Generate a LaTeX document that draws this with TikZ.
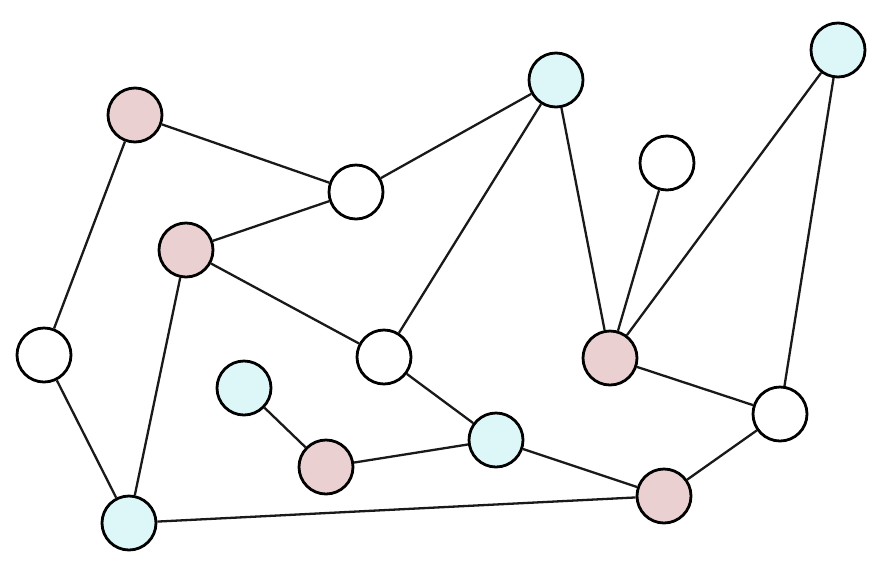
\documentclass[tikz,border=0pt]{standalone}
\begin{document}
\begin{tikzpicture}[x=1pt,y=-1pt,
  vtx/.style={circle,draw=black,line width=2.8pt,minimum size=54pt,inner sep=0pt,fill=white},
  pinkv/.style={vtx,fill=pinkc},
  cyanv/.style={vtx,fill=cyanc},
  edge/.style={line width=2.3pt,draw=black!90}]
\definecolor{pinkc}{HTML}{EBD0D2}
\definecolor{cyanc}{HTML}{DDF6F8}
\fill[white] (0,0) rectangle (882,574);
\useasboundingbox (0,0) rectangle (882,574);
\node[pinkv] (A) at (135,115) {};
\node[cyanv] (B) at (556,80) {};
\node[cyanv] (C) at (838,50) {};
\node[vtx] (D) at (356,192) {};
\node[vtx] (E) at (667,163) {};
\node[pinkv] (F) at (186,250) {};
\node[vtx] (G) at (44,355) {};
\node[vtx] (H) at (384,357) {};
\node[pinkv] (I) at (610,358) {};
\node[cyanv] (J) at (244,388) {};
\node[vtx] (K) at (780,414) {};
\node[cyanv] (L) at (496,440) {};
\node[pinkv] (M) at (326,467) {};
\node[pinkv] (N) at (664,496) {};
\node[cyanv] (O) at (129,523) {};
\foreach \a/\b in {A/D,A/G,D/B,D/F,F/H,F/O,G/O,B/H,B/I,E/I,C/I,C/K,I/K,H/L,J/M,M/L,L/N,K/N,O/N}
  \draw[edge] (\a) -- (\b);
\end{tikzpicture}
\end{document}
